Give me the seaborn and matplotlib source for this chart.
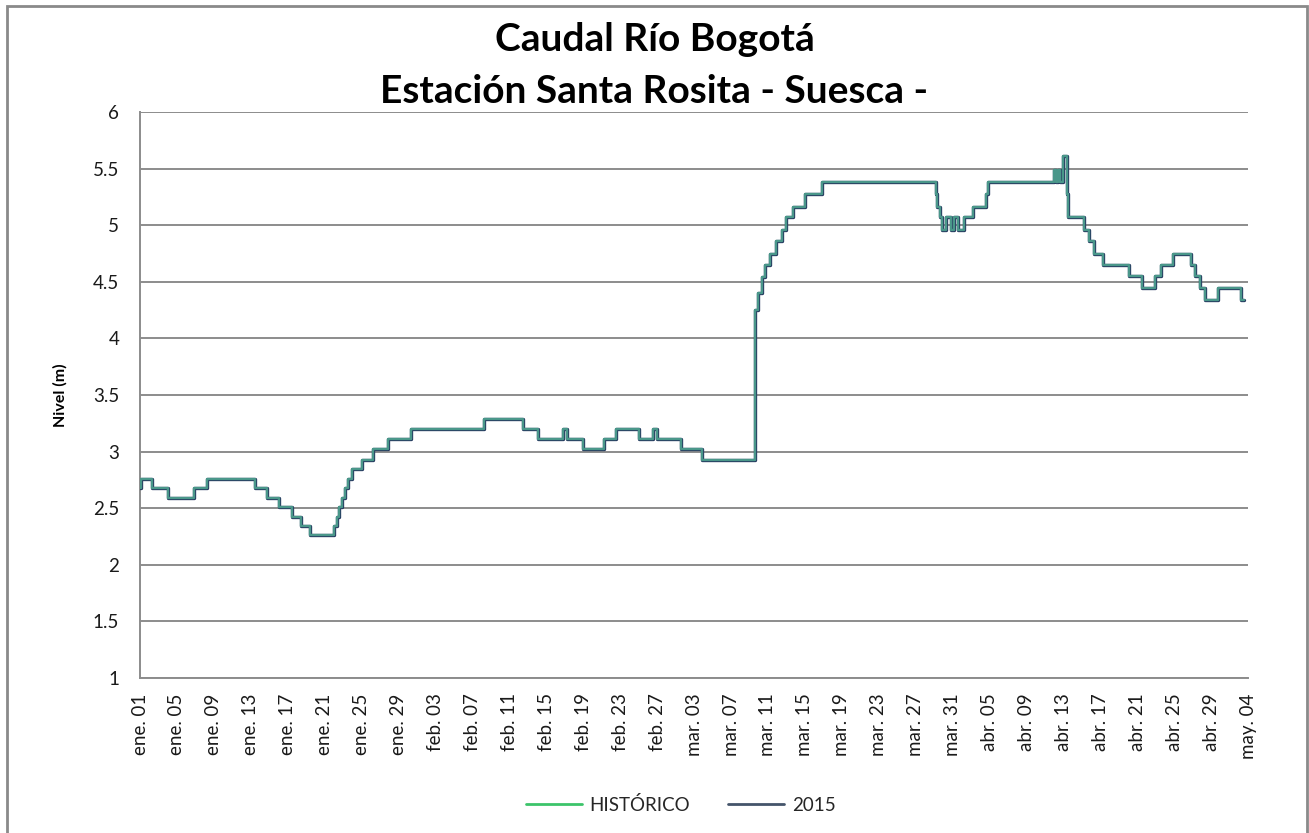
import numpy as np
import pandas as pd
import matplotlib
matplotlib.use("Agg")
import matplotlib.pyplot as plt
import seaborn as sns
from matplotlib.lines import Line2D
from matplotlib.patches import Rectangle

# Posiciones (indice de dia en el eje de categorias) donde cambia el nivel y nivel (m)
posicion = [0.0, 0.1, 1.3, 3.0, 5.8, 7.2, 12.5, 13.8, 15.1, 16.5, 17.4, 18.4,
            21.0, 21.3, 21.5, 21.9, 22.2, 22.5, 23.0, 24.0, 25.2, 26.8, 29.3,
            37.3, 41.5, 43.1, 45.8, 46.2, 48.0, 50.2, 51.5, 54.0, 55.5, 56.0,
            58.6, 60.9, 66.6, 66.9, 67.3, 67.7, 68.2, 68.9, 69.5, 69.9, 70.7,
            72.0, 73.8, 86.2, 86.3, 86.6, 86.9, 87.3, 87.8, 88.1, 88.6, 89.2,
            90.2, 91.6, 91.8, 99.0, 99.2, 99.4, 99.6, 100.0, 100.4, 100.5,
            102.2, 102.8, 103.3, 104.3, 107.1, 108.5, 109.9, 110.6, 111.9,
            113.8, 114.3, 114.8, 115.3, 116.7, 119.2, 119.5]
nivel = [2.68, 2.76, 2.68, 2.59, 2.68, 2.76, 2.68, 2.59, 2.51, 2.42, 2.34, 2.26,
         2.34, 2.42, 2.51, 2.59, 2.68, 2.76, 2.85, 2.93, 3.02, 3.11, 3.20,
         3.29, 3.20, 3.11, 3.20, 3.11, 3.02, 3.11, 3.20, 3.11, 3.20, 3.11,
         3.02, 2.93, 4.25, 4.40, 4.54, 4.65, 4.75, 4.86, 4.96, 5.07, 5.16,
         5.28, 5.38, 5.28, 5.16, 5.07, 4.96, 5.07, 4.96, 5.07, 4.96, 5.07,
         5.16, 5.28, 5.38, 5.49, 5.38, 5.49, 5.38, 5.61, 5.28, 5.07,
         4.96, 4.86, 4.75, 4.65, 4.55, 4.45, 4.55, 4.65, 4.75,
         4.65, 4.55, 4.45, 4.34, 4.45, 4.34, 4.34]

etiquetas_x = ["ene. 01", "ene. 05", "ene. 09", "ene. 13", "ene. 17", "ene. 21",
               "ene. 25", "ene. 29", "feb. 03", "feb. 07", "feb. 11", "feb. 15",
               "feb. 19", "feb. 23", "feb. 27", "mar. 03", "mar. 07", "mar. 11",
               "mar. 15", "mar. 19", "mar. 23", "mar. 27", "mar. 31", "abr. 05",
               "abr. 09", "abr. 13", "abr. 17", "abr. 21", "abr. 25", "abr. 29",
               "may. 04"]
ticks_y = [1, 1.5, 2, 2.5, 3, 3.5, 4, 4.5, 5, 5.5, 6]

df = pd.DataFrame({"posicion": posicion, "nivel": nivel})

sns.set_style("white")
plt.rcParams["font.family"] = ["Lato", "DejaVu Sans"]

fig = plt.figure(figsize=(13.09, 8.33), dpi=100)
ax = fig.add_axes([0.107, 0.186, 0.8465, 0.6795])

gris = "#8c8c8c"
# 2015 underneath, HISTÓRICO on top (same values, they overlap)
sns.lineplot(data=df, x="posicion", y="nivel", ax=ax, color="#25395f",
             linewidth=2.4, drawstyle="steps-post", estimator=None, sort=False,
             legend=False, zorder=3)
sns.lineplot(data=df, x="posicion", y="nivel", ax=ax, color="#4a978a",
             linewidth=1.7, drawstyle="steps-post", estimator=None, sort=False,
             legend=False, zorder=4)

ax.set_xlim(0, 120)
ax.set_ylim(1, 6)
ax.set_xticks(np.arange(0, 121, 4))
ax.set_xticklabels(etiquetas_x, rotation=90, fontsize=13.5, color="#1a1a1a")
ax.set_yticks(ticks_y)
ax.set_yticklabels([f"{v:g}" for v in ticks_y], fontsize=13.5, color="#1a1a1a")
ax.tick_params(axis="both", direction="out", length=7, width=1.3, color=gris, pad=4)
ax.tick_params(axis="y", pad=8)

ax.grid(True, axis="y", color=gris, linewidth=1.4)
ax.grid(False, axis="x")
for s in ["top", "right"]:
    ax.spines[s].set_visible(False)
for s in ["left", "bottom"]:
    ax.spines[s].set_color(gris)
    ax.spines[s].set_linewidth(1.4)

ax.set_xlabel("")
ax.set_ylabel("Nivel (m)", fontsize=11.5, fontweight="bold", color="#000000", labelpad=18)

fig.text(0.5, 0.952, "Caudal Río Bogotá", ha="center", va="center",
         fontsize=28, fontweight="bold", color="#000000")
fig.text(0.5, 0.89, "Estación Santa Rosita - Suesca -", ha="center", va="center",
         fontsize=28, fontweight="bold", color="#000000")

handles = [Line2D([0], [0], color="#3cc46a", linewidth=2),
           Line2D([0], [0], color="#44546a", linewidth=2)]
fig.legend(handles, ["HISTÓRICO", "2015"], loc="center", bbox_to_anchor=(0.52, 0.034),
           ncol=2, frameon=False, fontsize=13.5, handlelength=3.0, columnspacing=2.0,
           handletextpad=0.4)

fig.patches.append(Rectangle((7 / 1309, -0.05), 1300 / 1309, 1.05 - 6 / 833,
                             transform=fig.transFigure, fill=False,
                             edgecolor="#8a8a8a", linewidth=2))

fig.savefig("out.png", dpi=100)
